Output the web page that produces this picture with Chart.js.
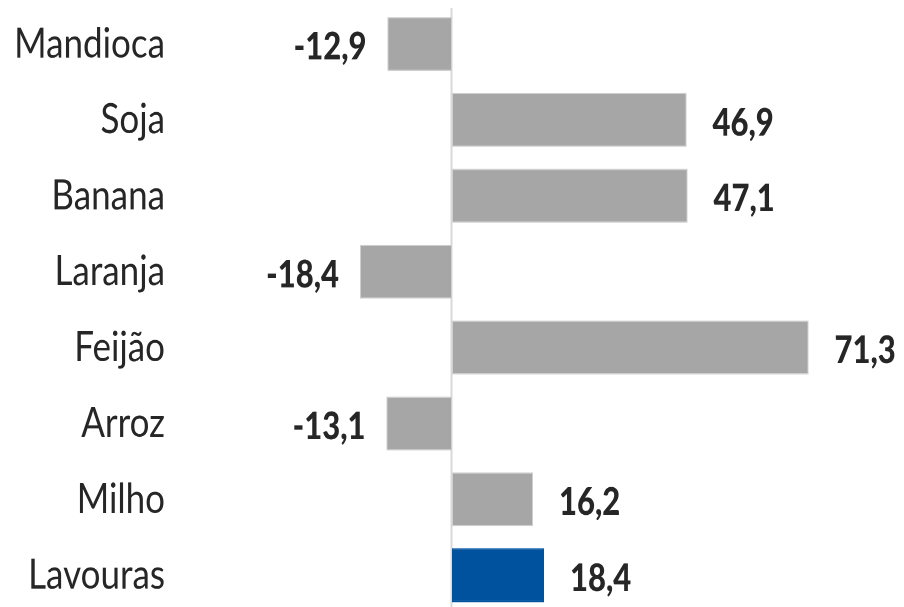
<!DOCTYPE html>
<html><head><meta charset="utf-8">
<script src="https://cdn.jsdelivr.net/npm/chart.js@4"></script>
<style>
html,body{margin:0;padding:0;overflow:hidden;background:#fff;width:904px;height:607px}
#wrap{position:relative;width:904px;height:512px;transform:scaleY(1.2);transform-origin:0 0}
</style></head>
<body><div id="wrap"><canvas id="c"></canvas></div>
<script>
const categories = ['Mandioca', 'Soja', 'Banana', 'Laranja', 'Feijão', 'Arroz', 'Milho', 'Lavouras'];
const values = [-12.9, 46.9, 47.1, -18.4, 71.3, -13.1, 16.2, 18.4];
const highlight = ['Lavouras'];

const GRAY = '#a6a6a6', BLUE = '#00529f', TEXT = '#262626';
const FONT = 'Lato, "Open Sans", sans-serif';

const zeroLine = {
  id: 'zeroLine',
  beforeDatasetsDraw(chart) {
    const {ctx, chartArea, scales: {x}} = chart;
    const px = Math.round(x.getPixelForValue(0)) - 0.5;
    ctx.save();
    ctx.strokeStyle = '#d9d9d9';
    ctx.lineWidth = 2;
    ctx.beginPath();
    ctx.moveTo(px, chartArea.top + 1.5);
    ctx.lineTo(px, chart.height);
    ctx.stroke();
    ctx.restore();
  }
};

const valueLabels = {
  id: 'valueLabels',
  afterDatasetsDraw(chart) {
    const {ctx} = chart;
    const meta = chart.getDatasetMeta(0);
    ctx.save();
    ctx.font = '900 31px ' + FONT;
    ctx.fillStyle = TEXT;
    ctx.textBaseline = 'middle';
    meta.data.forEach((el, i) => {
      const v = values[i];
      const txt = v.toFixed(1).replace('.', ',');
      if (v >= 0) { ctx.textAlign = 'left'; ctx.fillText(txt, el.x + 26, el.y + 3); }
      else { ctx.textAlign = 'right'; ctx.fillText(txt, el.x - 21, el.y + 3); }
    });
    ctx.restore();
  }
};

new Chart(document.getElementById('c'), {
  type: 'bar',
  data: {
    labels: categories,
    datasets: [{
      data: values,
      backgroundColor: categories.map(c => highlight.includes(c) ? BLUE : GRAY),
      borderColor: categories.map(c => highlight.includes(c) ? BLUE : '#cfcfcf'),
      borderWidth: 1,
      borderSkipped: false,
      barPercentage: 0.71,
      categoryPercentage: 1
    }]
  },
  options: {
    indexAxis: 'y',
    responsive: true,
    maintainAspectRatio: false,
    animation: false,
    devicePixelRatio: 2,
    layout: {padding: {top: 5, bottom: 1, left: 0, right: 0}},
    plugins: {legend: {display: false}, tooltip: {enabled: false}},
    scales: {
      x: {display: false, min: -57, max: 90.4},
      y: {
        grid: {display: false, drawTicks: false},
        border: {display: false},
        ticks: {color: TEXT, font: {family: FONT, size: 35}, padding: 2},
        afterFit(scale) { scale.width = 167; scale.paddingTop = 0; scale.paddingBottom = 0; }
      }
    }
  },
  plugins: [zeroLine, valueLabels]
});
</script>
</body></html>
